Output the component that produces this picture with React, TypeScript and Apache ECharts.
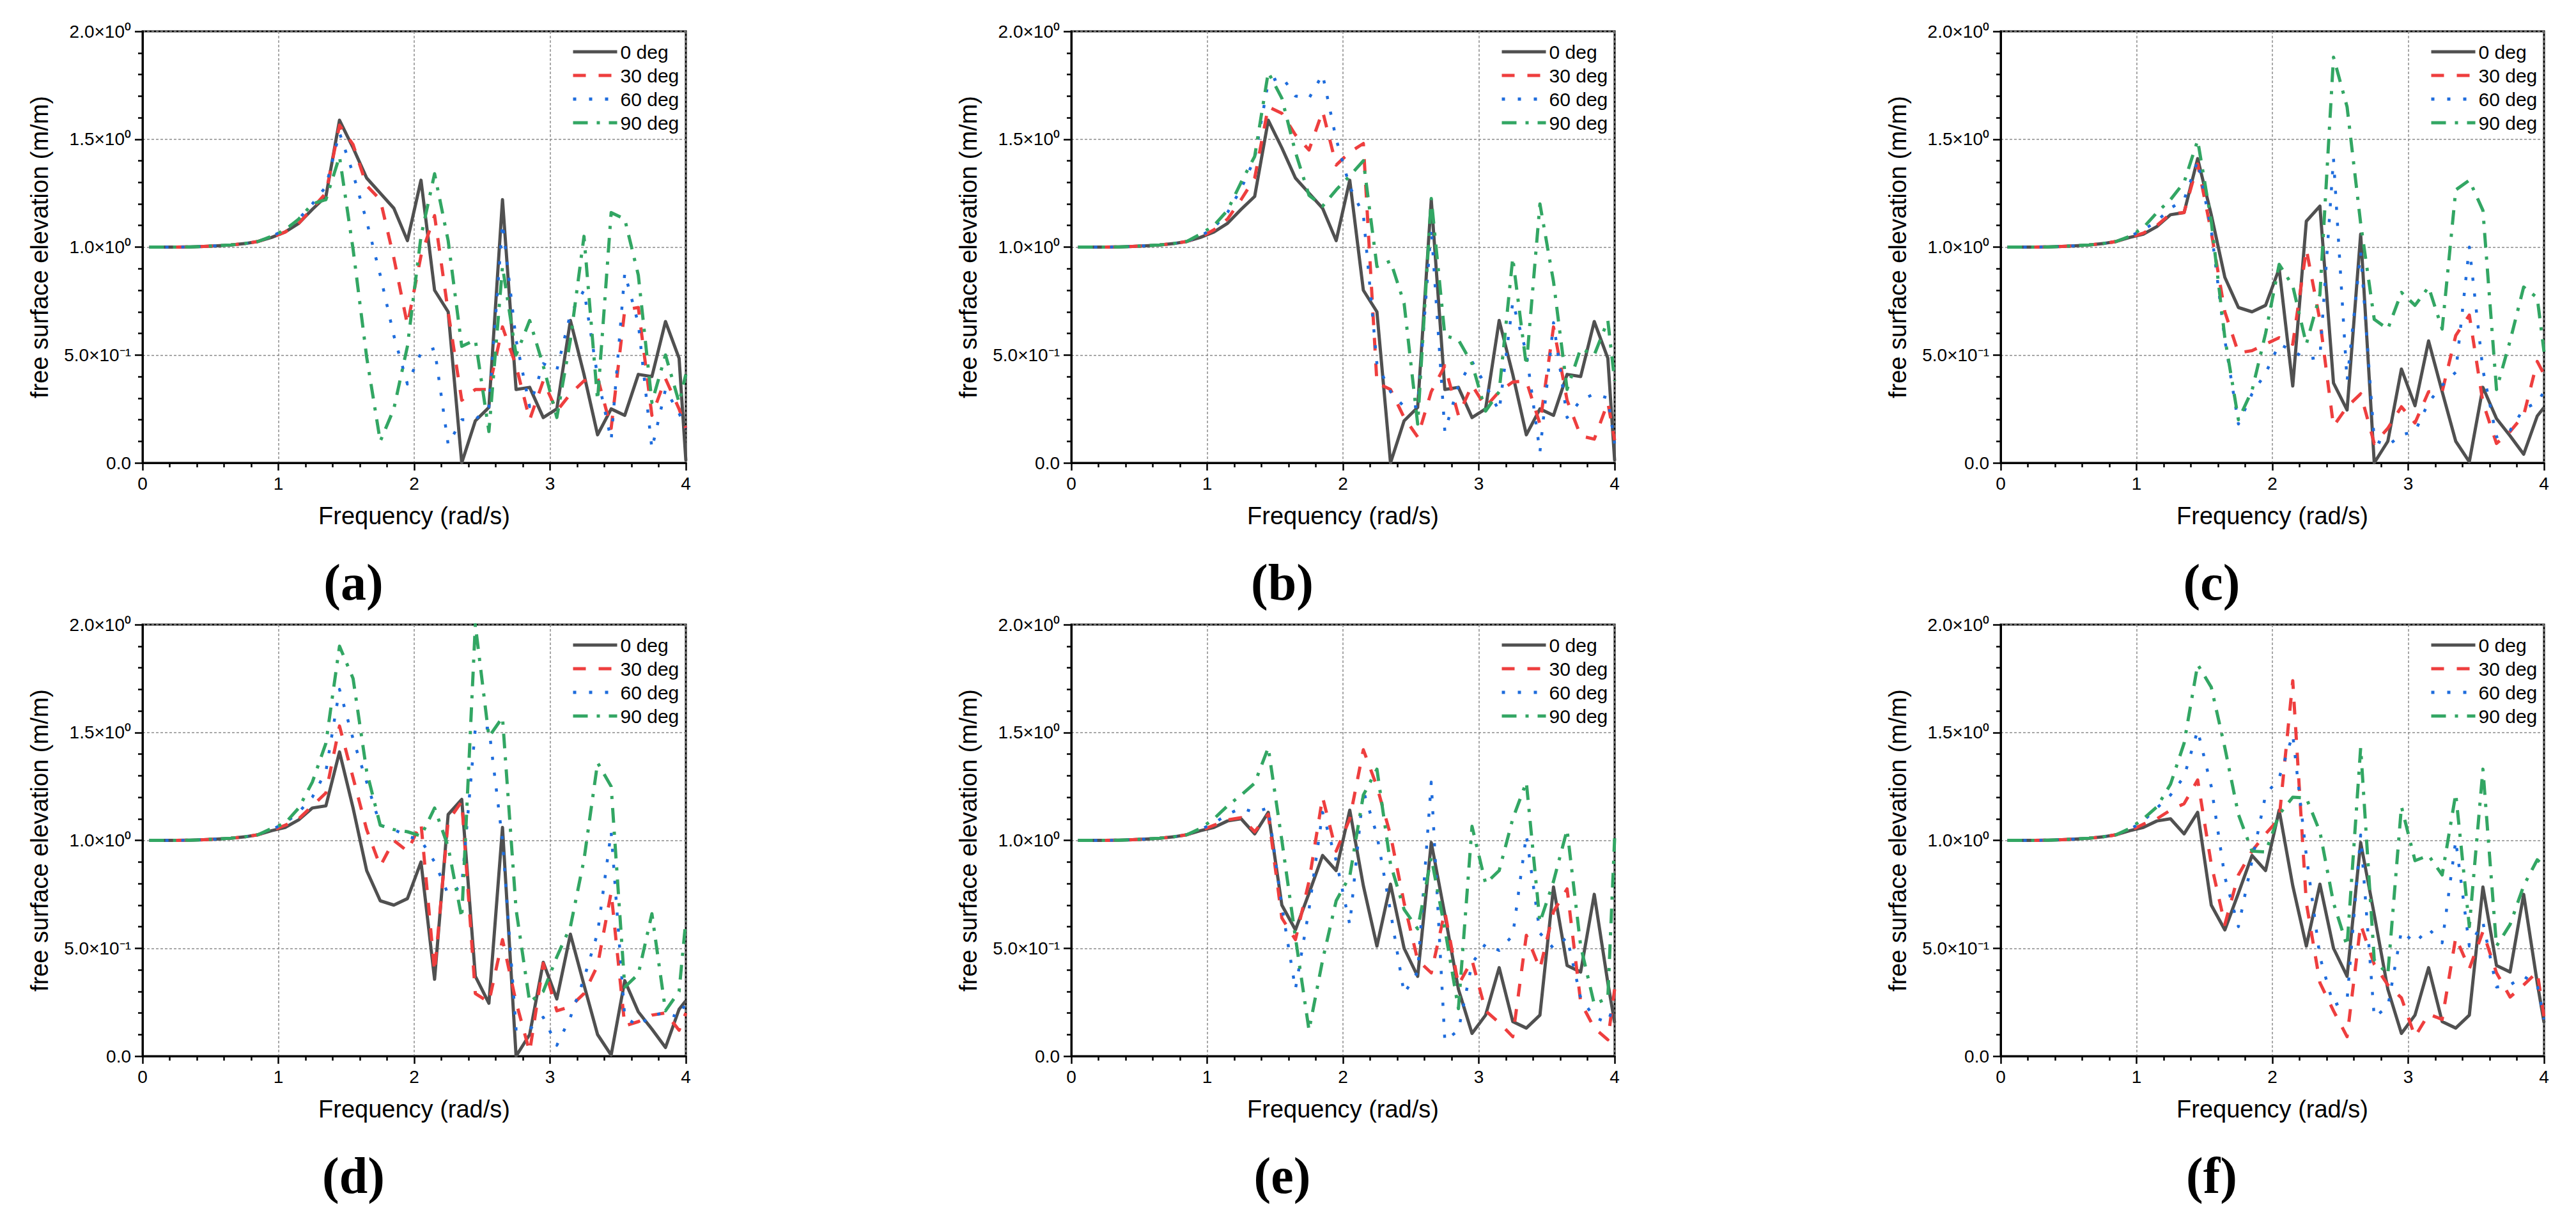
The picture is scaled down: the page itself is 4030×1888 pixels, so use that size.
import React, { useEffect, useRef } from "react";
import * as echarts from "echarts";

// Frequency samples (rad/s)
const FREQ = [
  0.05, 0.15, 0.25, 0.35, 0.45, 0.55, 0.65, 0.75, 0.85, 0.95,
  1.05, 1.15, 1.25, 1.35, 1.45, 1.55, 1.65, 1.75, 1.85, 1.95,
  2.05, 2.15, 2.25, 2.35, 2.45, 2.55, 2.65, 2.75, 2.85, 2.95,
  3.05, 3.15, 3.25, 3.35, 3.45, 3.55, 3.65, 3.75, 3.85, 3.95, 4.0,
];

// common low-frequency part (0.05 .. 0.85)
const LOW = [1.0, 1.0, 1.0, 1.001, 1.003, 1.006, 1.01, 1.016, 1.026];

// 0 deg curves (shared by panels a/b, c/d, e/f)
const ZERO_AB = [...LOW, 1.045, 1.07, 1.11, 1.175, 1.235, 1.588, 1.46, 1.32, 1.25, 1.18, 1.03, 1.31, 0.80, 0.70, 0.0, 0.195, 0.257, 1.22, 0.34, 0.35, 0.21, 0.25, 0.66, 0.41, 0.13, 0.25, 0.22, 0.41, 0.40, 0.655, 0.485, 0.01];
const ZERO_CD = [...LOW, 1.045, 1.06, 1.095, 1.15, 1.16, 1.41, 1.15, 0.86, 0.72, 0.70, 0.73, 0.90, 0.356, 1.12, 1.19, 0.37, 0.245, 1.06, 0.0, 0.10, 0.435, 0.265, 0.565, 0.33, 0.10, 0.005, 0.35, 0.205, 0.125, 0.04, 0.217, 0.257];
const ZERO_EF = [...LOW, 1.045, 1.06, 1.09, 1.10, 1.03, 1.13, 0.70, 0.585, 0.755, 0.93, 0.86, 1.14, 0.79, 0.51, 0.797, 0.50, 0.37, 0.99, 0.656, 0.31, 0.105, 0.19, 0.41, 0.16, 0.13, 0.19, 0.784, 0.42, 0.39, 0.75, 0.34, 0.155];

// panel (a)
const A30 = [...LOW, 1.045, 1.07, 1.11, 1.18, 1.25, 1.565, 1.475, 1.285, 1.22, 0.95, 0.64, 0.96, 1.146, 0.70, 0.29, 0.34, 0.34, 0.63, 0.45, 0.20, 0.38, 0.24, 0.32, 0.38, 0.395, 0.16, 0.71, 0.72, 0.22, 0.39, 0.25, 0.16];
const A60 = [...LOW, 1.05, 1.08, 1.13, 1.2, 1.28, 1.53, 1.34, 1.12, 0.87, 0.59, 0.365, 0.51, 0.53, 0.085, 0.2, 0.2, 0.26, 1.11, 0.57, 0.26, 0.46, 0.43, 0.69, 0.80, 0.40, 0.105, 0.88, 0.645, 0.065, 0.34, 0.23, 0.16];
const A90 = [...LOW, 1.05, 1.08, 1.13, 1.2, 1.22, 1.42, 0.99, 0.49, 0.10, 0.25, 0.54, 1.05, 1.34, 1.03, 0.54, 0.57, 0.145, 0.91, 0.50, 0.66, 0.45, 0.21, 0.57, 1.05, 0.29, 1.16, 1.13, 0.87, 0.28, 0.5, 0.28, 0.41];

// panel (b)
const B30 = [...LOW, 1.045, 1.08, 1.13, 1.22, 1.32, 1.65, 1.62, 1.52, 1.45, 1.63, 1.38, 1.44, 1.48, 0.37, 0.34, 0.21, 0.12, 0.33, 0.45, 0.22, 0.36, 0.26, 0.33, 0.375, 0.38, 0.18, 0.63, 0.29, 0.125, 0.11, 0.28, 0.105];
const B60 = [...LOW, 1.05, 1.09, 1.16, 1.27, 1.41, 1.765, 1.79, 1.70, 1.69, 1.80, 1.50, 1.28, 1.15, 0.46, 0.33, 0.26, 0.26, 1.09, 0.145, 0.36, 0.47, 0.36, 0.24, 0.745, 0.51, 0.05, 0.65, 0.21, 0.29, 0.32, 0.30, 0.09];
const B90 = [...LOW, 1.06, 1.10, 1.17, 1.30, 1.42, 1.81, 1.69, 1.44, 1.24, 1.19, 1.265, 1.33, 1.40, 0.91, 0.935, 0.74, 0.18, 1.225, 0.59, 0.57, 0.46, 0.24, 0.33, 0.95, 0.45, 1.20, 0.84, 0.34, 0.53, 0.50, 0.66, 0.38];

// panel (c)
const C30 = [...LOW, 1.045, 1.065, 1.10, 1.155, 1.16, 1.385, 1.07, 0.70, 0.51, 0.52, 0.55, 0.58, 0.55, 0.99, 0.66, 0.17, 0.26, 0.32, 0.09, 0.16, 0.26, 0.185, 0.33, 0.33, 0.59, 0.685, 0.28, 0.09, 0.145, 0.22, 0.47, 0.41];
const C60 = [...LOW, 1.05, 1.08, 1.12, 1.18, 1.22, 1.40, 1.08, 0.57, 0.18, 0.32, 0.415, 0.55, 0.52, 0.48, 0.49, 1.41, 0.38, 0.975, 0.105, 0.08, 0.13, 0.145, 0.28, 0.36, 0.42, 1.0, 0.43, 0.12, 0.15, 0.25, 0.28, 0.33];
const C90 = [...LOW, 1.05, 1.09, 1.16, 1.22, 1.30, 1.495, 1.12, 0.58, 0.20, 0.335, 0.60, 0.92, 0.82, 0.55, 0.78, 1.88, 1.65, 1.11, 0.665, 0.62, 0.79, 0.73, 0.815, 0.62, 1.265, 1.31, 1.17, 0.34, 0.565, 0.815, 0.765, 0.515];

// panel (d)
const D30 = [...LOW, 1.045, 1.07, 1.10, 1.16, 1.22, 1.53, 1.29, 1.05, 0.88, 1.0, 0.95, 1.08, 0.39, 1.09, 1.18, 0.29, 0.25, 0.54, 0.25, 0.02, 0.43, 0.21, 0.23, 0.29, 0.42, 0.76, 0.14, 0.16, 0.19, 0.2, 0.12, 0.2];
const D60 = [...LOW, 1.05, 1.08, 1.13, 1.2, 1.32, 1.70, 1.47, 1.27, 1.07, 1.05, 1.02, 1.0, 0.90, 0.75, 0.79, 1.52, 1.52, 1.0, 0.125, 0.125, 0.18, 0.05, 0.18, 0.36, 0.57, 1.04, 0.18, 0.14, 0.19, 0.2, 0.18, 0.25];
const D90 = [...LOW, 1.055, 1.08, 1.15, 1.27, 1.45, 1.90, 1.75, 1.32, 1.07, 1.05, 1.04, 1.02, 1.15, 0.97, 0.64, 2.0, 1.48, 1.57, 0.68, 0.25, 0.30, 0.46, 0.60, 0.91, 1.36, 1.25, 0.32, 0.38, 0.66, 0.21, 0.30, 0.63];

// panel (e)
const E30 = [...LOW, 1.045, 1.07, 1.095, 1.105, 1.04, 1.12, 0.64, 0.54, 0.81, 1.20, 0.95, 1.10, 1.42, 1.25, 1.025, 0.71, 0.445, 0.386, 0.67, 0.33, 0.445, 0.21, 0.155, 0.09, 0.56, 0.405, 0.67, 0.775, 0.25, 0.13, 0.076, 0.31];
const E60 = [...LOW, 1.05, 1.08, 1.12, 1.15, 1.13, 1.15, 0.695, 0.31, 0.68, 1.13, 0.906, 0.61, 1.23, 1.025, 0.67, 0.29, 0.39, 1.27, 0.07, 0.12, 0.43, 0.52, 0.49, 0.56, 1.025, 0.57, 0.50, 0.55, 0.27, 0.18, 0.155, 0.25];
const E90 = [...LOW, 1.055, 1.10, 1.16, 1.21, 1.265, 1.43, 1.0, 0.55, 0.12, 0.445, 0.72, 0.834, 1.21, 1.33, 0.89, 0.68, 0.59, 0.92, 0.59, 0.22, 1.065, 0.80, 0.86, 1.10, 1.27, 0.62, 0.81, 1.05, 0.51, 0.24, 0.27, 1.01];

// panel (f)
const F30 = [...LOW, 1.045, 1.075, 1.10, 1.14, 1.17, 1.28, 0.89, 0.61, 0.84, 0.95, 1.03, 1.10, 1.74, 0.71, 0.34, 0.21, 0.09, 0.61, 0.425, 0.33, 0.27, 0.09, 0.195, 0.17, 0.55, 0.405, 0.577, 0.386, 0.274, 0.33, 0.39, 0.18];
const F60 = [...LOW, 1.05, 1.09, 1.15, 1.21, 1.295, 1.51, 1.25, 0.83, 0.60, 0.905, 1.21, 1.29, 1.49, 0.93, 0.46, 0.235, 0.26, 1.025, 0.18, 0.23, 0.58, 0.525, 0.59, 0.525, 1.0, 0.51, 0.62, 0.32, 0.33, 0.37, 0.33, 0.17];
const F90 = [...LOW, 1.055, 1.10, 1.155, 1.26, 1.45, 1.815, 1.71, 1.43, 1.12, 0.95, 0.946, 1.12, 1.20, 1.196, 1.04, 0.71, 0.51, 1.43, 0.445, 0.38, 1.157, 0.906, 0.93, 0.84, 1.216, 0.60, 1.33, 0.51, 0.61, 0.79, 0.91, 0.88];

const SERIES_NAMES = ["0 deg", "30 deg", "60 deg", "90 deg"];
const PANEL_LABELS = ["(a)", "(b)", "(c)", "(d)", "(e)", "(f)"];
const PANEL_DATA = [
  [ZERO_AB, A30, A60, A90],
  [ZERO_AB, B30, B60, B90],
  [ZERO_CD, C30, C60, C90],
  [ZERO_CD, D30, D60, D90],
  [ZERO_EF, E30, E60, E90],
  [ZERO_EF, F30, F60, F90],
];
const Y_TICK_VALUES = [0, 0.5, 1, 1.5, 2];
const Y_TICK_LABELS = ["0.0", "5.0×10⁻¹", "1.0×10⁰", "1.5×10⁰", "2.0×10⁰"];
const X_TICK_LABELS = ["0", "1", "2", "3", "4"];

const X_TITLE = "Frequency (rad/s)";
const Y_TITLE = "free surface elevation (m/m)";

// layout
const COL_LEFT = [223, 1676, 3130];
const ROW_TOP = [49, 977];
const GRID_W = 850;
const GRID_H = 675;
const FONT = '"Liberation Sans", Arial, sans-serif';

const LINE_STYLES = [
  { color: "#505050", width: 5, type: "solid" as any },
  { color: "#EE3E3E", width: 5, type: [20, 20] as any },
  { color: "#1E6CDC", width: 4.5, type: [5, 20] as any },
  { color: "#32A663", width: 5, type: [23, 14, 5, 14] as any },
];

function buildOption() {
  const grids: any[] = [];
  const xAxes: any[] = [];
  const yAxes: any[] = [];
  const legends: any[] = [];
  const series: any[] = [];
  const graphics: any[] = [];

  PANEL_DATA.forEach((panel, p) => {
    const col = p % 3;
    const row = Math.floor(p / 3);
    const left = COL_LEFT[col];
    const top = ROW_TOP[row];
    grids.push({
      left,
      top,
      width: GRID_W,
      height: GRID_H,
      show: true,
      borderColor: "#000",
      borderWidth: 3,
      backgroundColor: "transparent",
      containLabel: false,
    });
    const axisCommon = {
      gridIndex: p,
      type: "value",
      axisLine: { show: true, onZero: false, lineStyle: { color: "#000", width: 3 } },
      axisTick: { show: true, inside: false, length: 12, lineStyle: { color: "#000", width: 2.5 } },
      minorTick: { show: true, splitNumber: 5, length: 7, lineStyle: { color: "#000", width: 2.5 } },
      splitLine: { show: true, lineStyle: { color: "#8c8c8c", width: 1.5, type: [4, 3] } },
      minorSplitLine: { show: false },
      nameLocation: "middle",
      nameTextStyle: { fontFamily: FONT, fontSize: 38, color: "#000" },
    };
    xAxes.push({
      ...axisCommon,
      min: 0,
      max: 4,
      interval: 1,
      name: X_TITLE,
      nameGap: 64,
      axisLabel: {
        fontFamily: FONT,
        fontSize: 28,
        color: "#000",
        margin: 18,
        formatter: (v: number) => X_TICK_LABELS[Math.round(v)] ?? String(v),
      },
    });
    yAxes.push({
      ...axisCommon,
      min: 0,
      max: 2,
      interval: 0.5,
      name: Y_TITLE,
      nameGap: 142,
      nameRotate: 90,
      axisLabel: {
        fontFamily: FONT,
        fontSize: 28,
        color: "#000",
        margin: 18,
        formatter: (v: number) => {
          const i = Y_TICK_VALUES.findIndex((t) => Math.abs(t - v) < 1e-6);
          return i >= 0 ? Y_TICK_LABELS[i] : String(v);
        },
      },
    });
    legends.push({
      orient: "vertical",
      left: left + 666,
      top: top + 12,
      itemWidth: 69,
      itemHeight: 14,
      itemGap: 7,
      selectedMode: false,
      data: SERIES_NAMES,
      itemStyle: { color: "transparent", borderColor: "transparent", borderWidth: 0, opacity: 0 },
      lineStyle: { width: 5 },
      textStyle: { fontFamily: FONT, fontSize: 30, lineHeight: 30, color: "#000" },
    });
    panel.forEach((vals, s) => {
      const ls = LINE_STYLES[s];
      series.push({
        type: "line",
        name: SERIES_NAMES[s],
        xAxisIndex: p,
        yAxisIndex: p,
        symbol: "none",
        showSymbol: false,
        clip: true,
        color: ls.color,
        lineStyle: { color: ls.color, width: ls.width, type: ls.type, cap: "butt", join: "round" },
        data: FREQ.map((f, i) => [f, vals[i]]),
        z: 2 + s,
      });
    });
    graphics.push({
      type: "text",
      x: left + 330,
      y: top + 862,
      style: {
        text: PANEL_LABELS[p],
        font: 'bold 80px "Liberation Serif", "Times New Roman", serif',
        fill: "#000",
        align: "center",
        verticalAlign: "middle",
      },
    });
  });

  return {
    animation: false,
    backgroundColor: "#fff",
    grid: grids,
    xAxis: xAxes,
    yAxis: yAxes,
    legend: legends,
    series,
    graphic: graphics,
  };
}

export default function App() {
  const ref = useRef<HTMLDivElement | null>(null);
  useEffect(() => {
    if (!ref.current) return;
    const chart = echarts.init(ref.current, undefined, { renderer: "svg" });
    chart.setOption(buildOption() as any);
    return () => {
      chart.dispose();
    };
  }, []);
  return (
    <div
      ref={ref}
      style={{ position: "absolute", left: 0, top: 0, width: 4030, height: 1888, background: "#fff" }}
    />
  );
}
